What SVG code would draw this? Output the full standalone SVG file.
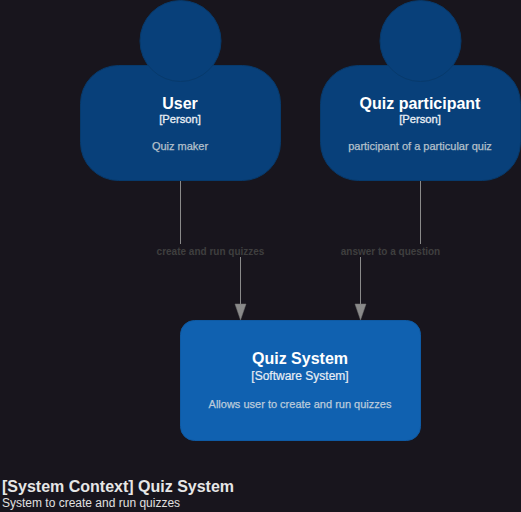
<svg xmlns="http://www.w3.org/2000/svg" width="521" height="512" viewBox="0 0 521 512">
<style>
text{font-family:"Liberation Sans",Arial,sans-serif;text-anchor:middle}
.person{fill:#08407a;stroke:#073a6c;stroke-width:1}
.sys{fill:#1061b0;stroke:#0e5aa4;stroke-width:1}
.name{font-size:16px;font-weight:bold;fill:#fff}
.ptype{font-size:11.200px;fill:#e6ecf2;stroke:#e6ecf2;stroke-width:.35}
.desc{font-size:11px;fill:#b5c0cb;stroke:#b5c0cb;stroke-width:.25}
.stype{font-size:12px;fill:#e8eef5;stroke:#e8eef5;stroke-width:.2}
.sdesc{font-size:11px;fill:#bccbdb;stroke:#bccbdb;stroke-width:.25}
.rel{font-size:10px;font-weight:bold;fill:#3f3f3f}
.line{stroke:#8a8a8a;stroke-width:1;fill:none}
.head{fill:#8a8a8a;stroke:#777;stroke-width:.5}
</style>
<rect width="521" height="512" fill="#18151d"/>
<g id="connectors">
<path class="line" d="M180.500 181V244"/>
<path class="line" d="M240.500 257V310"/>
<path class="head" d="M240.500 320L235 304H246Z"/>
<path class="line" d="M420.500 181V244"/>
<path class="line" d="M360.500 257V310"/>
<path class="head" d="M360.500 320L355 304H366Z"/>
<text class="rel" x="210.500" y="254.500">create and run quizzes</text>
<text class="rel" x="390.500" y="254.500">answer to a question</text>
</g>
<g id="user">
<rect class="person" x="80.500" y="65.500" width="200" height="115" rx="38" ry="38"/>
<circle class="person" cx="180.500" cy="41" r="40.500"/>
<text class="name" x="180" y="108.500">User</text>
<text class="ptype" x="180" y="123">[Person]</text>
<text class="desc" x="180" y="150">Quiz maker</text>
</g>
<g id="participant">
<rect class="person" x="320.500" y="65.500" width="200" height="115" rx="38" ry="38"/>
<circle class="person" cx="420.500" cy="41" r="40.500"/>
<text class="name" x="420" y="108.500">Quiz participant</text>
<text class="ptype" x="420" y="123">[Person]</text>
<text class="desc" x="420" y="150">participant of a particular quiz</text>
</g>
<g id="quiz-system">
<rect class="sys" x="180.500" y="320.500" width="240" height="120" rx="14" ry="14"/>
<text class="name" x="300" y="363.500">Quiz System</text>
<text class="stype" x="300" y="380">[Software System]</text>
<text class="sdesc" x="300" y="408">Allows user to create and run quizzes</text>
</g>
<g id="title">
<text x="2" y="492" style="text-anchor:start;font-size:16px;font-weight:bold;fill:#e6e6e6">[System Context] Quiz System</text>
<text x="2" y="507" style="text-anchor:start;font-size:12px;fill:#e0e0e0">System to create and run quizzes</text>
</g>
</svg>
